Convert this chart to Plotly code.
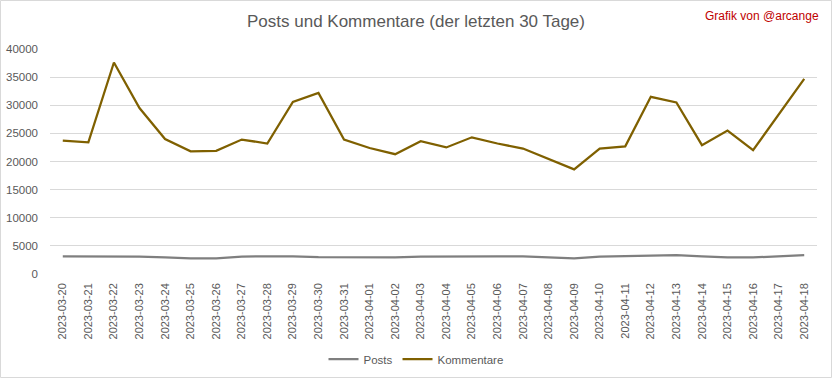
import plotly.graph_objects as go

dates = [
    "2023-03-20", "2023-03-21", "2023-03-22", "2023-03-23", "2023-03-24", "2023-03-25",
    "2023-03-26", "2023-03-27", "2023-03-28", "2023-03-29", "2023-03-30", "2023-03-31",
    "2023-04-01", "2023-04-02", "2023-04-03", "2023-04-04", "2023-04-05", "2023-04-06",
    "2023-04-07", "2023-04-08", "2023-04-09", "2023-04-10", "2023-04-11", "2023-04-12",
    "2023-04-13", "2023-04-14", "2023-04-15", "2023-04-16", "2023-04-17", "2023-04-18",
]

posts = [
    3150, 3150, 3150, 3100, 2950, 2800, 2800, 3100, 3150, 3150,
    3000, 2950, 2950, 2950, 3100, 3150, 3150, 3150, 3150, 2950,
    2800, 3100, 3150, 3200, 3350, 3150, 2950, 2950, 3150, 3350,
]

kommentare = [
    23700, 23400, 37600, 29500, 24000, 21800, 21900, 23900, 23200, 30600,
    32200, 23900, 22400, 21300, 23600, 22500, 24300, 23200, 22300, 20400,
    18600, 22300, 22700, 31500, 30500, 22900, 25500, 22000, 28400, 34700,
]

y_ticks = [0, 5000, 10000, 15000, 20000, 25000, 30000, 35000, 40000]

FONT = "Liberation Sans, Arial, sans-serif"
GRAY = "#595959"

fig = go.Figure()
fig.add_trace(go.Scatter(x=dates, y=posts, name="Posts", mode="lines",
                         line=dict(color="#7F7F7F", width=2.25)))
fig.add_trace(go.Scatter(x=dates, y=kommentare, name="Kommentare", mode="lines",
                         line=dict(color="#7F6000", width=2.25)))

W, H = 832, 378
L, R, T, B = 50, 15, 49, 104
pw, ph = W - L - R, H - T - B

fig.update_layout(
    width=W, height=H,
    margin=dict(l=L, r=R, t=T, b=B, autoexpand=False),
    paper_bgcolor="white", plot_bgcolor="white",
    font=dict(family=FONT, color=GRAY, size=11),
    title=dict(text="Posts und Kommentare (der letzten 30 Tage)",
               x=0.5, xref="container", xanchor="center",
               y=1 - 21 / H, yref="container", yanchor="middle",
               font=dict(family=FONT, size=17, color=GRAY)),
    showlegend=True,
    legend=dict(orientation="h", xref="container", x=0.5, xanchor="center",
                yref="container", y=1 - 359 / H, yanchor="middle",
                bgcolor="rgba(0,0,0,0)",
                font=dict(family=FONT, size=11.5, color=GRAY),
                itemwidth=30, tracegroupgap=0),
    xaxis=dict(type="category", range=[-0.5, len(dates) - 0.5], tickangle=-90,
               showgrid=False, zeroline=False, showline=False, ticks="",
               tickfont=dict(size=11, color=GRAY), ticklabelstandoff=6),
    yaxis=dict(range=[0, 40000], tickvals=y_ticks, tickformat="d", showgrid=True,
               gridcolor="#D9D9D9", gridwidth=1, zeroline=False, showline=False,
               ticks="", tickfont=dict(size=11.5, color=GRAY), ticklabelstandoff=11),
    annotations=[dict(text="Grafik von @arcange", xref="paper", yref="paper",
                      x=(821 - L) / pw, y=(H - B - 16) / ph, xanchor="right",
                      yanchor="middle", showarrow=False,
                      font=dict(family=FONT, size=12, color="#C00000"))],
    shapes=[dict(type="rect", xref="paper", yref="paper",
                 x0=(0.5 - L) / pw, x1=(W - 0.5 - L) / pw,
                 y0=(H - B - (H - 0.5)) / ph, y1=(H - B - 0.5) / ph,
                 line=dict(color="#D9D9D9", width=1), fillcolor="rgba(0,0,0,0)",
                 layer="below")],
)

fig.write_html("out.html", config={"displayModeBar": False},
               post_script="document.body.style.margin='0px';document.body.style.overflow='hidden';")
